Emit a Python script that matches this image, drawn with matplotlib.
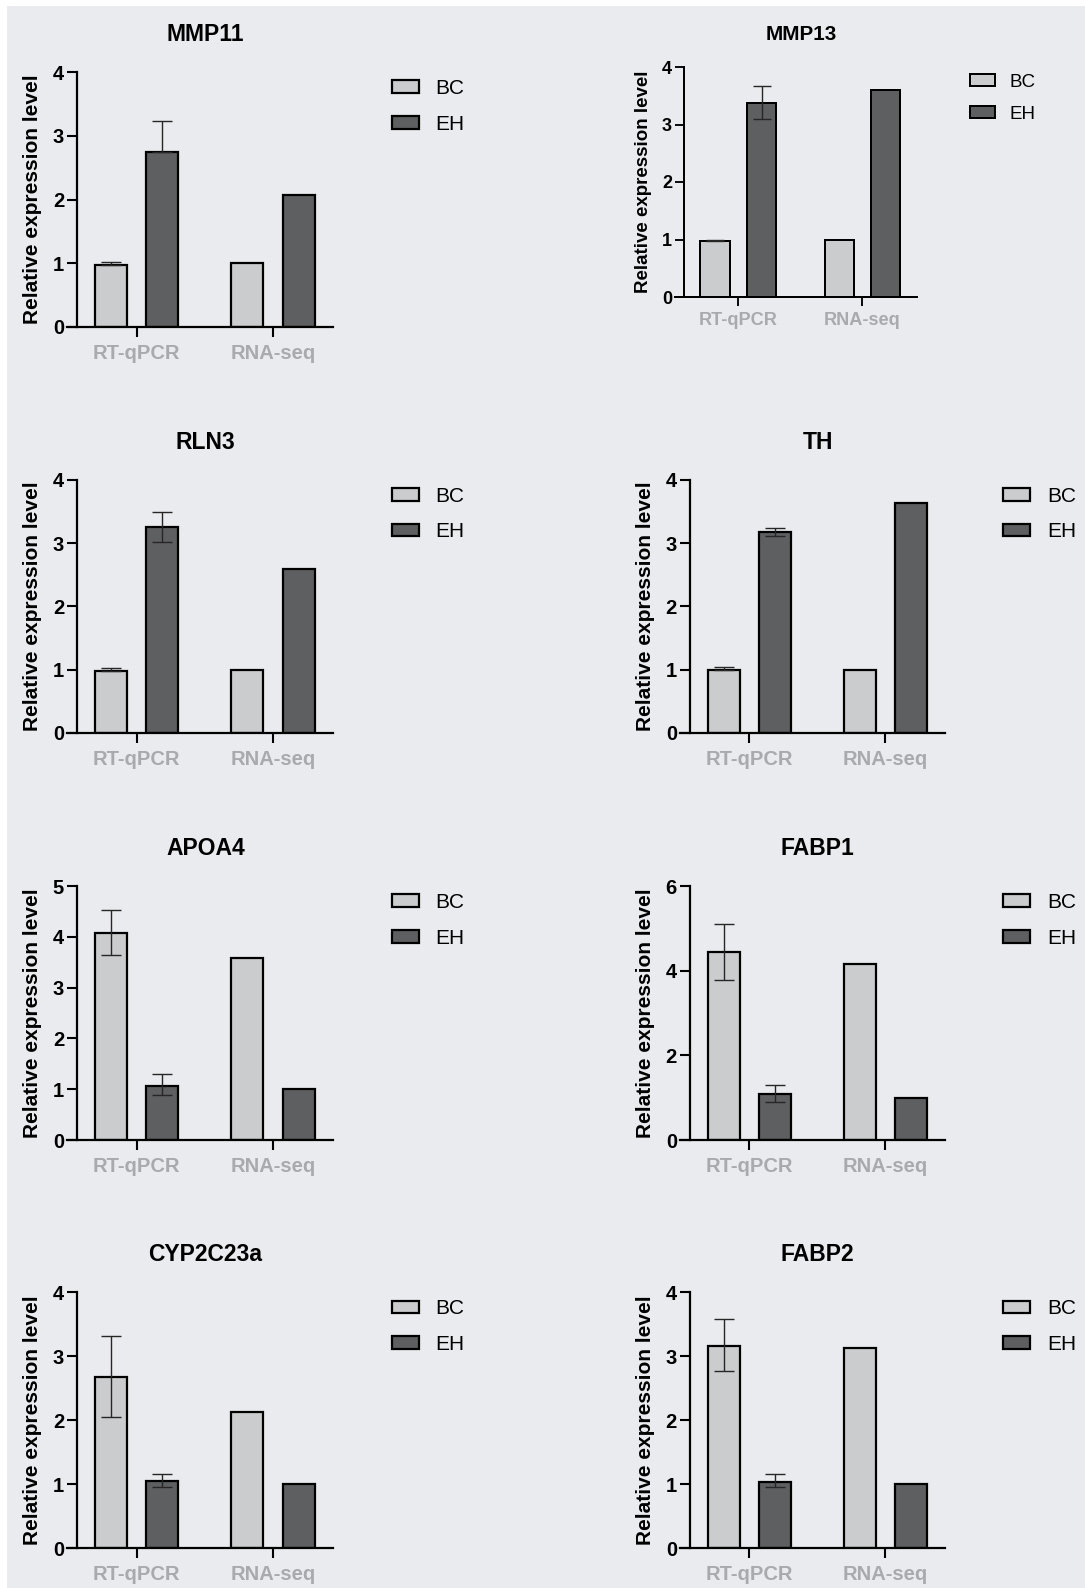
import numpy as np
import matplotlib
matplotlib.use('Agg')
import matplotlib.pyplot as plt
from matplotlib.patches import Patch, Rectangle

plt.rcParams['font.family'] = ['Liberation Sans', 'DejaVu Sans']

# data: order of each pair is [RT-qPCR, RNA-seq]
genes = ['MMP11', 'MMP13', 'RLN3', 'TH', 'APOA4', 'FABP1', 'CYP2C23a', 'FABP2']
methods = ['RT-qPCR', 'RNA-seq']
groups = ['BC', 'EH']
ymax = [4, 4, 4, 4, 5, 6, 4, 4]
ystep = [1, 1, 1, 1, 1, 2, 1, 1]

bc_vals = [[0.98, 1.00], [0.98, 1.00], [0.98, 1.00], [1.00, 0.99],
           [4.07, 3.59], [4.43, 4.15], [2.67, 2.13], [3.16, 3.13]]
eh_vals = [[2.75, 2.07], [3.37, 3.60], [3.25, 2.59], [3.17, 3.63],
           [1.07, 1.00], [1.08, 1.00], [1.04, 1.00], [1.03, 1.00]]
# error bars for RT-qPCR only (lower, upper)
bc_err = [(0.0, 0.04), (0.0, 0.02), (0.0, 0.04), (0.0, 0.04),
          (0.42, 0.45), (0.66, 0.68), (0.63, 0.64), (0.39, 0.42)]
eh_err = [(0.0, 0.48), (0.27, 0.30), (0.23, 0.25), (0.05, 0.07),
          (0.19, 0.23), (0.18, 0.21), (0.08, 0.12), (0.08, 0.12)]

# layout in pixels: x-axis left, x-axis right, y of zero, y of ymax
W, H = 1085, 1588
boxes = [(67, 333, 327, 72), (675, 917, 297, 67),
         (67, 333, 733, 480), (680, 945, 733, 480),
         (67, 333, 1140, 886), (680, 945, 1140, 886),
         (67, 333, 1548, 1292), (680, 945, 1548, 1292)]
scales = [1, 0.9, 1, 1, 1, 1, 1, 1]

bg = '#E9EBEE'
c_bc = '#CBCCCE'
c_eh = '#5E5F61'
c_xt = '#A8AAAD'

fig = plt.figure(figsize=(W / 100, H / 100), dpi=100)
fig.patch.set_facecolor('white')
fig.add_artist(Rectangle((7 / W, 0), 1 - 7 / W, 1 - 6 / H, transform=fig.transFigure,
                         facecolor=bg, edgecolor='none', zorder=-10))

x = np.arange(len(methods))
bw = 0.235
off = 0.1875

for i, gene in enumerate(genes):
    x0, x1, y0, yt = boxes[i]
    s = scales[i]
    ax = fig.add_axes([x0 / W, 1 - y0 / H, (x1 - x0) / W, (y0 - yt) / H])
    ax.set_facecolor('none')

    bc = np.array(bc_vals[i])
    eh = np.array(eh_vals[i])
    ax.bar(x - off, bc, bw, color=c_bc, edgecolor='black', linewidth=1.6 * s, zorder=2, label=groups[0])
    ax.bar(x + off, eh, bw, color=c_eh, edgecolor='black', linewidth=1.6 * s, zorder=2, label=groups[1])

    ekw = dict(fmt='none', ecolor='#262626', elinewidth=1.0, capsize=7 * s, capthick=1.0, zorder=3)
    ax.errorbar(x[0] - off, bc[0], yerr=[[bc_err[i][0]], [bc_err[i][1]]], **ekw)
    ax.errorbar(x[0] + off, eh[0], yerr=[[eh_err[i][0]], [eh_err[i][1]]], **ekw)

    ax.set_xlim(-0.51, 1.44)
    ax.set_ylim(0, ymax[i])
    ax.set_yticks(np.arange(0, ymax[i] + 0.01, ystep[i]))
    ax.set_xticks(x)
    ax.set_xticklabels(methods)

    for sp in ['top', 'right']:
        ax.spines[sp].set_visible(False)
    ax.spines['left'].set_position(('data', -0.435))
    ax.spines['left'].set_linewidth(1.6 * s)
    ax.spines['bottom'].set_linewidth(1.6 * s)

    ax.tick_params(axis='y', length=7 * s, width=1.5 * s, pad=2.5,
                   labelsize=14.5 * s, labelcolor='black')
    ax.tick_params(axis='x', length=7 * s, width=1.5 * s, pad=5 * s,
                   labelsize=14.5 * s, labelcolor=c_xt)
    for lab in ax.get_yticklabels() + ax.get_xticklabels():
        lab.set_fontweight('bold')

    ax.set_ylabel('Relative expression level', fontsize=15 * s, fontweight='bold')
    ax.yaxis.set_label_coords(-0.094, 0.5)
    ax.set_title(gene, fontsize=16.5 * s, fontweight='bold', x=0.52, pad=22 * s)

    handles = [Patch(facecolor=c_bc, edgecolor='black', linewidth=1.6 * s),
               Patch(facecolor=c_eh, edgecolor='black', linewidth=1.6 * s)]
    ax.legend(handles, groups, loc='center left', bbox_to_anchor=(1.22, 0.865),
              frameon=False, fontsize=15 * s, handlelength=1.3, handleheight=0.55,
              handletextpad=0.8, labelspacing=0.8, borderpad=0, borderaxespad=0)

fig.savefig('out.png', dpi=100, facecolor=fig.get_facecolor())
